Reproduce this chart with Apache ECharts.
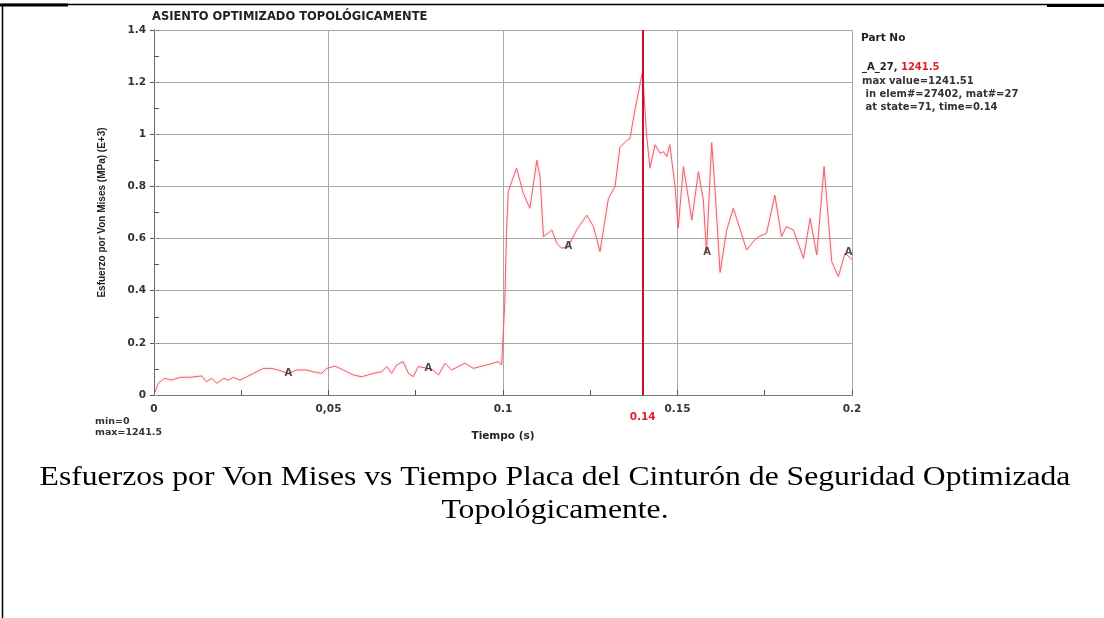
<!DOCTYPE html>
<html>
<head>
<meta charset="utf-8">
<script src="https://cdn.jsdelivr.net/npm/echarts@6/dist/echarts.min.js"></script>
<style>
  html, body { margin: 0; padding: 0; background: #fff; }
  #chart { width: 1104px; height: 618px; }
</style>
</head>
<body>
<div id="chart"></div>
<script>
// Time (s) and von Mises stress (MPa, E+3) for part A_27
const time = [
  0, 0.0012, 0.003, 0.005, 0.0075, 0.0103, 0.0137, 0.015, 0.0165, 0.018,
  0.020, 0.0213, 0.0227, 0.0246, 0.0266, 0.0285, 0.0313, 0.0337, 0.0356, 0.0385,
  0.0409, 0.0437, 0.0456, 0.048, 0.0495, 0.0519, 0.0542, 0.0571, 0.0595, 0.0628,
  0.0652, 0.0667, 0.0681, 0.0695, 0.0714, 0.0729, 0.0743, 0.0757, 0.0786, 0.08,
  0.0815, 0.0834, 0.0853, 0.0872, 0.0891, 0.0915, 0.0934, 0.0953, 0.0972, 0.0987,
  0.0996, 0.1, 0.1005, 0.101, 0.1015, 0.102, 0.1039, 0.1058, 0.1077, 0.1097,
  0.1106, 0.1116, 0.114, 0.1154, 0.1168, 0.1187, 0.1211, 0.124, 0.1259, 0.1278,
  0.1302, 0.1321, 0.1335, 0.1354, 0.1364, 0.1378, 0.14, 0.1411, 0.1421, 0.1436,
  0.145, 0.146, 0.1469, 0.1478, 0.1493, 0.1502, 0.1517, 0.1541, 0.156, 0.1574,
  0.1583, 0.1598, 0.1607, 0.1622, 0.1641, 0.166, 0.168, 0.1698, 0.1717, 0.1732,
  0.1755, 0.1779, 0.1798, 0.1812, 0.1832, 0.1861, 0.188, 0.1899, 0.192, 0.1942,
  0.1961, 0.198, 0.2
];
const stress = [
  0, 0.045, 0.064, 0.057, 0.068, 0.068, 0.073, 0.051, 0.064, 0.045,
  0.064, 0.057, 0.068, 0.057, 0.070, 0.083, 0.102, 0.102, 0.096, 0.083,
  0.096, 0.096, 0.089, 0.083, 0.102, 0.111, 0.096, 0.077, 0.070, 0.083,
  0.089, 0.109, 0.083, 0.115, 0.128, 0.083, 0.070, 0.109, 0.102, 0.096,
  0.077, 0.122, 0.096, 0.109, 0.122, 0.102, 0.109, 0.115, 0.122, 0.128,
  0.115, 0.12, 0.35, 0.62, 0.78, 0.80, 0.87, 0.774, 0.716, 0.90,
  0.837, 0.607, 0.633, 0.582, 0.563, 0.569, 0.633, 0.69, 0.646, 0.55,
  0.754, 0.80, 0.95, 0.975, 0.985, 1.093, 1.2415, 1.004, 0.87, 0.96,
  0.927, 0.933, 0.914, 0.96, 0.80, 0.64, 0.876, 0.671, 0.857, 0.748,
  0.548, 0.968, 0.80, 0.47, 0.633, 0.716, 0.633, 0.556, 0.588, 0.607,
  0.62, 0.767, 0.607, 0.646, 0.633, 0.524, 0.678, 0.537, 0.876, 0.511,
  0.454, 0.544, 0.52
];

// "A" curve markers along the trace
const markerTime = [0.0385, 0.0786, 0.1187, 0.1585, 0.199];
const markerStress = [0.083, 0.102, 0.569, 0.548, 0.548];

// Axis tick labels
const xTickValues = [0, 0.05, 0.1, 0.15, 0.2];
const xTickLabels = ['0', '0,05', '0.1', '0.15', '0.2'];
const yTickValues = [0, 0.2, 0.4, 0.6, 0.8, 1, 1.2, 1.4];
const yTickLabels = ['0', '0.2', '0.4', '0.6', '0.8', '1', '1.2', '1.4'];

// Peak value and time
const peakTime = 0.14;
const peakValue = 1241.5;

const tickFont = 'DejaVu Sans';
const lineData = time.map((t, i) => [t, stress[i]]);
const markerData = markerTime.map((t, i) => [t, markerStress[i]]);

function labelFor(values, labels) {
  return v => {
    const i = values.findIndex(x => Math.abs(x - v) < 1e-9);
    return i >= 0 ? labels[i] : '';
  };
}

const chart = echarts.init(document.getElementById('chart'), null, { renderer: 'canvas' });

const gridPos = { left: 154, right: 252, top: 30, bottom: 223 };

chart.setOption({
  animation: false,
  backgroundColor: '#ffffff',
  title: {
    text: 'ASIENTO OPTIMIZADO TOPOLÓGICAMENTE',
    left: 152,
    top: 11,
    padding: 0,
    textStyle: { fontFamily: tickFont, fontWeight: 'bold', fontSize: 11.5, color: '#222' }
  },
  grid: Object.assign({ containLabel: false }, gridPos),
  xAxis: [
    {
      type: 'value', min: 0, max: 0.2, interval: 0.05, position: 'bottom',
      name: 'Tiempo (s)', nameLocation: 'middle', nameGap: 36,
      nameTextStyle: { fontFamily: tickFont, fontWeight: 'bold', fontSize: 10.5, color: '#222' },
      axisLine: { show: true, lineStyle: { color: '#555', width: 1 } },
      axisTick: { show: false },
      axisLabel: {
        formatter: labelFor(xTickValues, xTickLabels),
        fontFamily: tickFont, fontWeight: 'bold', fontSize: 10.5, color: '#333', margin: 9
      },
      splitLine: { show: true, lineStyle: { color: '#a8a8a8', width: 1 } }
    },
    {
      // minor ticks pointing into the plot
      type: 'value', min: 0, max: 0.2, interval: 0.025, position: 'bottom',
      axisLine: { show: false },
      axisTick: { show: true, inside: true, length: 5, lineStyle: { color: '#555' } },
      axisLabel: { show: false },
      splitLine: { show: false }
    },
    {
      // top edge of the plot box
      type: 'value', min: 0, max: 0.2, interval: 0.05, position: 'top',
      axisLine: { show: true, lineStyle: { color: '#777', width: 1 } },
      axisTick: { show: false },
      axisLabel: { show: false },
      splitLine: { show: false }
    }
  ],
  yAxis: [
    {
      type: 'value', min: 0, max: 1.4, interval: 0.2, position: 'left',
      name: 'Esfuerzo por Von Mises (MPa) (E+3)', nameLocation: 'middle', nameGap: 47,
      nameTextStyle: { fontFamily: 'Liberation Sans', fontWeight: 'bold', fontSize: 10, color: '#222' },
      axisLine: { show: true, lineStyle: { color: '#555', width: 1 } },
      axisTick: { show: true, inside: false, length: 4, lineStyle: { color: '#555' } },
      axisLabel: {
        formatter: labelFor(yTickValues, yTickLabels),
        fontFamily: tickFont, fontWeight: 'bold', fontSize: 10.5, color: '#333', margin: 8
      },
      splitLine: { show: true, lineStyle: { color: '#a8a8a8', width: 1 } }
    },
    {
      type: 'value', min: 0, max: 1.4, interval: 0.1, position: 'left',
      axisLine: { show: false },
      axisTick: { show: true, inside: true, length: 5, lineStyle: { color: '#555' } },
      axisLabel: { show: false },
      splitLine: { show: false }
    },
    {
      type: 'value', min: 0, max: 1.4, interval: 0.2, position: 'right',
      axisLine: { show: true, lineStyle: { color: '#666', width: 1 } },
      axisTick: { show: true, inside: false, length: 4, lineStyle: { color: '#999' } },
      axisLabel: { show: false },
      splitLine: { show: false }
    }
  ],
  series: [
    {
      type: 'line',
      name: 'A_27',
      data: lineData,
      xAxisIndex: 0,
      yAxisIndex: 0,
      showSymbol: false,
      symbol: 'none',
      lineStyle: {
        color: '#e8626e', width: 1,
        shadowBlur: 3, shadowColor: 'rgba(245,140,150,0.55)'
      },
      markLine: {
        silent: true,
        symbol: ['none', 'none'],
        lineStyle: { color: '#c8102e', width: 2, type: 'solid' },
        label: {
          show: true, position: 'start', distance: 17,
          formatter: String(peakTime),
          color: '#e0202e', fontFamily: tickFont, fontWeight: 'bold', fontSize: 10.5
        },
        data: [{ xAxis: peakTime }]
      },
      z: 3
    },
    {
      type: 'scatter',
      data: markerData,
      xAxisIndex: 0,
      yAxisIndex: 0,
      symbol: 'circle',
      symbolSize: 2,
      itemStyle: { color: 'rgba(0,0,0,0)' },
      label: {
        show: true, position: 'inside', formatter: 'A',
        fontFamily: tickFont, fontWeight: 'bold', fontSize: 10, color: '#222'
      },
      z: 4
    }
  ],
  graphic: [
    // page frame
    { type: 'line', shape: { x1: 2.5, y1: 4, x2: 2.5, y2: 618 }, style: { stroke: '#000', lineWidth: 1.5 } },
    { type: 'line', shape: { x1: 2, y1: 4.5, x2: 1104, y2: 4.5 }, style: { stroke: '#000', lineWidth: 1.5 } },
    { type: 'line', shape: { x1: 0, y1: 5, x2: 68, y2: 5 }, style: { stroke: '#000', lineWidth: 3 } },
    { type: 'line', shape: { x1: 1047, y1: 5.5, x2: 1104, y2: 5.5 }, style: { stroke: '#000', lineWidth: 3 } },
    // info block
    {
      type: 'text', x: 861, y: 33,
      style: { text: 'Part No', font: 'bold 10.5px "DejaVu Sans"', fill: '#222' }
    },
    {
      type: 'text', x: 862, y: 62,
      style: {
        text: '{a|_A_27, }{b|' + peakValue + '}',
        rich: {
          a: { font: 'bold 10px "DejaVu Sans"', fill: '#222' },
          b: { font: 'bold 10px "DejaVu Sans"', fill: '#e0202e' }
        }
      }
    },
    {
      type: 'text', x: 862, y: 75,
      style: {
        text: 'max value=1241.51\n in elem#=27402, mat#=27\n at state=71, time=0.14',
        font: 'bold 10px "DejaVu Sans"', fill: '#333', lineHeight: 13
      }
    },
    // min/max summary
    {
      type: 'text', x: 95, y: 416,
      style: { text: 'min=0\nmax=1241.5', font: 'bold 9.5px "DejaVu Sans"', fill: '#333', lineHeight: 11 }
    },
    // caption
    {
      type: 'text', x: 555, y: 478, scaleX: 1.13,
      style: {
        text: 'Esfuerzos por Von Mises vs Tiempo Placa del Cinturón de Seguridad Optimizada',
        font: '28px "Liberation Serif"', fill: '#000', textAlign: 'center', textVerticalAlign: 'middle'
      }
    },
    {
      type: 'text', x: 555, y: 511, scaleX: 1.13,
      style: {
        text: 'Topológicamente.',
        font: '28px "Liberation Serif"', fill: '#000', textAlign: 'center', textVerticalAlign: 'middle'
      }
    }
  ]
});
</script>
</body>
</html>
